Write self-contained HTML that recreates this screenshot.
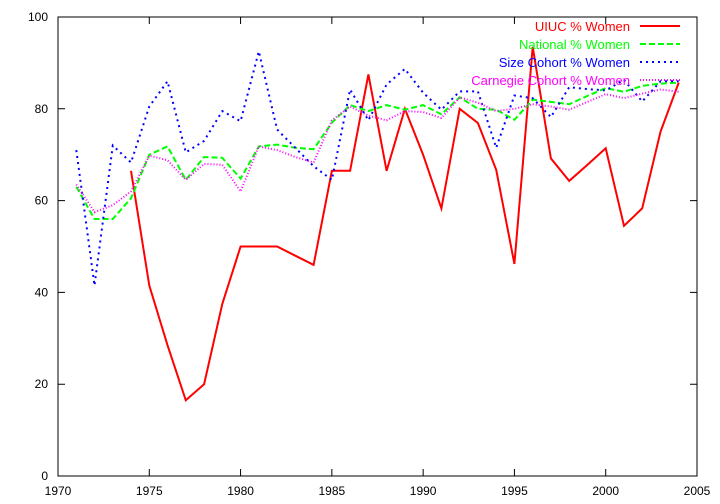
<!DOCTYPE html>
<html><head><meta charset="utf-8"><style>
html,body{margin:0;padding:0;background:#fff;}
svg{display:block;font-family:"Liberation Sans",sans-serif;}
</style></head><body>
<svg id="chart" width="720" height="504" viewBox="0 0 720 504" xmlns="http://www.w3.org/2000/svg">
<rect x="58" y="17" width="639" height="459" fill="none" stroke="#000" stroke-width="1"/>
<g id="axes"></g>
<g id="series"></g>
<g id="legend"></g>
</svg>
<script>
const xTicks=[1970,1975,1980,1985,1990,1995,2000,2005];
const yTicks=[0,20,40,60,80,100];
const uiucYears=[1974,1975,1976,1977,1978,1979,1980,1981,1982,1983,1984,1985,1986,1987,1988,1989,1990,1991,1992,1993,1994,1995,1996,1997,1998,1999,2000,2001,2002,2003,2004];
const uiucVals=[66.5,41.5,28.5,16.5,20,37.5,50,50,50,48,46,66.5,66.5,87.5,66.5,80,70,58.3,80,76.9,66.7,46.2,93.5,69.2,64.3,67.8,71.4,54.5,58.3,75,85.7];
const years=[1971,1972,1973,1974,1975,1976,1977,1978,1979,1980,1981,1982,1983,1984,1985,1986,1987,1988,1989,1990,1991,1992,1993,1994,1995,1996,1997,1998,1999,2000,2001,2002,2003,2004];
const nationalVals=[63,56,56,60.5,70,71.8,64.5,69.5,69.3,64.8,71.8,72.2,71.5,71.2,77,80.8,79.5,80.8,79.8,80.8,78.8,82.5,80,79.8,77.6,82,81.5,81,82.8,84.5,83.7,85,85.5,85.7];
const sizeVals=[71,41.5,72,68.3,80.5,86,70.5,73,79.5,77.3,92.5,75.5,71.5,67.5,64.5,84.2,77.5,85.3,88.7,83.5,79.8,83.8,83.8,71.5,82.9,82.3,78.2,84.7,84.3,84,86.3,81.6,86,86];
const carnegieVals=[63.5,57.5,59,62,69.8,68.8,64.5,68,67.8,62,71.8,71,69.5,68.3,77.5,80.5,78.5,77.5,79.5,79.3,78,82.5,81.3,79.5,80,81,80.5,79.8,81.5,83.2,82.3,83.3,84.2,83.7];
const NS='http://www.w3.org/2000/svg';
const X=v=>58+(v-1970)*639/35;
const Y=v=>476-v*4.59;
function mk(tag,attrs,parent){const e=document.createElementNS(NS,tag);for(const k in attrs)e.setAttribute(k,attrs[k]);parent.appendChild(e);return e;}
const axes=document.getElementById('axes');
xTicks.forEach(t=>{
  const l=mk('path',{d:`M${X(t)},476v-7M${X(t)},17v7`,stroke:'#000'},axes);
  
  
  const tx=mk('text',{x:X(t),y:495,'text-anchor':'middle','font-size':'12'},axes);
  tx.textContent=t;
  
  
});
yTicks.forEach(t=>{
  const l=mk('path',{d:`M58,${Y(t)}h7M697,${Y(t)}h-7`,stroke:'#000'},axes);
  
  
  const tx=mk('text',{x:48,y:Y(t)+4,'text-anchor':'end','font-size':'12'},axes);
  tx.textContent=t;
  
  
});
const series=[
 {name:'UIUC % Women',xs:uiucYears,vs:uiucVals,color:'#f00',dash:'',id:'uiuc-line'},
 {name:'National % Women',xs:years,vs:nationalVals,color:'#0f0',dash:'6,3',id:'national-line'},
 {name:'Size Cohort % Women',xs:years,vs:sizeVals,color:'#00f',dash:'2,4',id:'size-cohort-line'},
 {name:'Carnegie Cohort % Women',xs:years,vs:carnegieVals,color:'#f0f',dash:'1,2',id:'carnegie-cohort-line'}
];
const sg=document.getElementById('series'),lg=document.getElementById('legend');
series.forEach((s,i)=>{
  const pts=s.xs.map((x,j)=>X(x).toFixed(1)+','+Y(s.vs[j]).toFixed(1)).join(' ');
  const p=mk('polyline',{points:pts,fill:'none',stroke:s.color,'stroke-width':'2','stroke-dasharray':s.dash},sg);
  
  
  const yy=26+i*18;
  const t=mk('text',{x:630,y:yy+5,'text-anchor':'end','font-size':'13',fill:s.color},lg);
  t.textContent=s.name;
  
  
  const ll=mk('line',{x1:640,x2:680,y1:yy,y2:yy,stroke:s.color,'stroke-width':'2','stroke-dasharray':s.dash},lg);
  
  
});
</script>
</body></html>
